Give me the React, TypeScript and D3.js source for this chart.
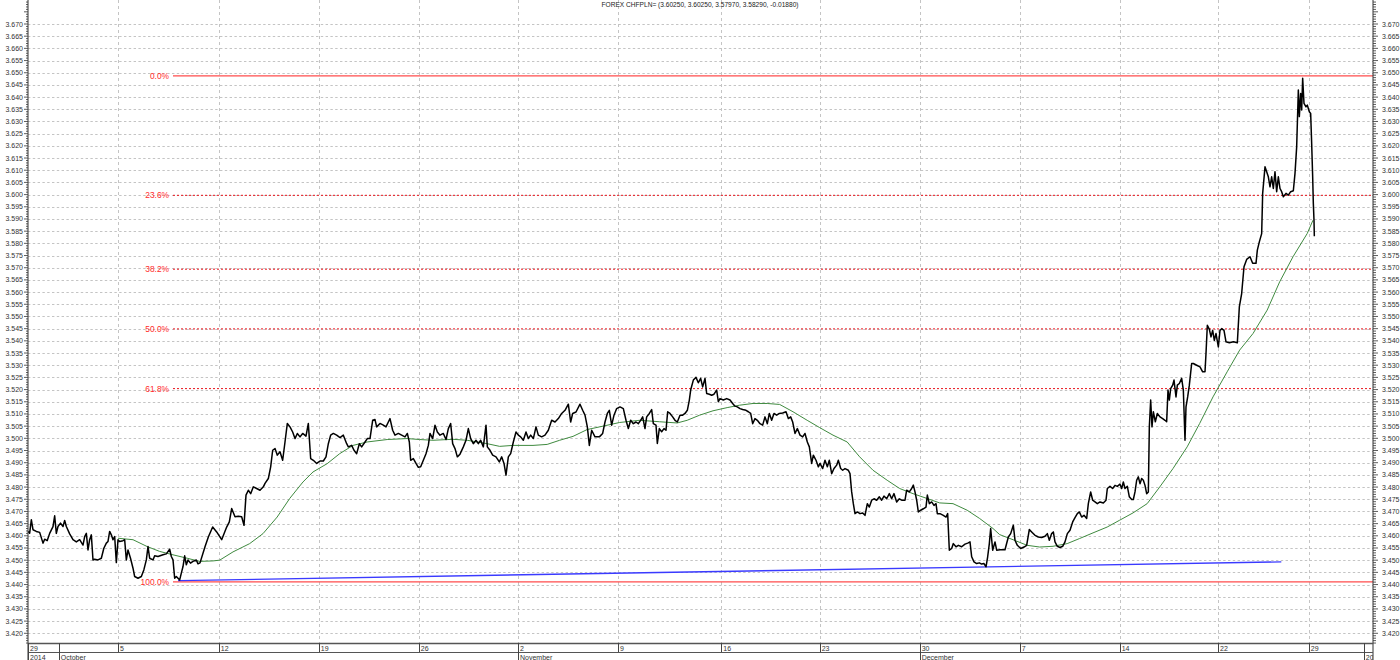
import React from 'react';
import * as d3 from 'd3';

// ---------- data ----------
const TITLE = 'FOREX CHFPLN= (3.60250, 3.60250, 3.57970, 3.58290, -0.01880)';

// time in trading hours since the first bar (Sep 29, 2014), value = CHF/PLN
const price: [number, number][] = [
  [0,3.4618],[2,3.4611],[4,3.4666],[6,3.4625],[10,3.4618],[14,3.4614],[18,3.457],[20,3.4586],[23,3.458],[26,3.461],
  [30,3.4638],[32,3.4682],[34,3.461],[36,3.4638],[39,3.4652],[42,3.4638],[44,3.4663],[46,3.4638],[50,3.4608],[54,3.4584],
  [58,3.4575],[62,3.4584],[66,3.4562],[68,3.4597],[70,3.461],[72,3.4542],[74,3.4584],[76,3.4604],[78,3.4501],[80,3.4504],
  [84,3.4501],[88,3.4508],[91,3.4549],[94,3.457],[96,3.4577],[98,3.4618],[100,3.4604],[102,3.4584],[104,3.4597],[106,3.449],
  [108,3.4584],[110,3.4577],[114,3.458],[116,3.4584],[118,3.4501],[120,3.4542],[123,3.4508],[126,3.4467],[128,3.4433],[132,3.4426],
  [136,3.4433],[139,3.446],[142,3.4501],[144,3.4556],[146,3.4508],[150,3.4501],[152,3.4518],[156,3.4515],[162,3.4522],[166,3.4526],
  [170,3.4545],[172,3.4515],[174,3.4501],[176,3.4426],[178,3.4433],[182,3.4419],[184,3.4447],[186,3.4474],[188,3.4518],[190,3.4481],
  [192,3.4501],[195,3.4488],[198,3.4495],[202,3.4501],[204,3.4485],
  [206.4,3.4489],[212.4,3.4555],[216.4,3.4595],[221.6,3.4636],[226.4,3.4616],[232.4,3.4584],[238.4,3.4636],[241.6,3.4657],[244.4,3.4712],[248.4,3.4678],
  [252.4,3.468],[256.4,3.4678],[259.2,3.4643],[261.6,3.4767],[264.4,3.4787],[267.2,3.4773],[270.4,3.4801],[274.4,3.4794],[278.4,3.4787],[282.4,3.4801],
  [284.4,3.4815],[288.4,3.4835],[291.2,3.4883],[293.6,3.4951],[296.4,3.4958],[299.2,3.4931],[302.4,3.4945],[305.6,3.491],[308.4,3.4985],[311.2,3.5061],
  [314.4,3.5047],[317.6,3.5026],[320.4,3.4999],[323.2,3.502],[326.4,3.5006],[329.6,3.502],[333.6,3.5009],[336.4,3.5061],[339.2,3.4917],[342.4,3.491],
  [346.4,3.4897],[350.4,3.4907],[354.4,3.4907],[357.6,3.4924],[360.4,3.4978],[363.2,3.5013],[366.4,3.502],[370.4,3.5013],[374.4,3.5003],[378.4,3.5013],
  [382.4,3.4978],[384.4,3.4965],[388.4,3.4971],[391.2,3.4951],[394.4,3.4937],[397.6,3.4978],[400.4,3.4965],[404.4,3.4985],[407.2,3.4999],[410.4,3.4999],
  [413.6,3.5074],[416.4,3.5077],[418.4,3.5047],[422.4,3.5061],[426.4,3.5054],[429.6,3.5047],[432.4,3.5067],[434.4,3.5081],[437.6,3.5033],[440.4,3.5013],
  [444.4,3.502],[448.4,3.5013],[452.4,3.5006],[455.2,3.502],[457.6,3.4985],[459.2,3.491],[462.4,3.4917],[465.6,3.4897],[468.4,3.4881],[471.2,3.4883],
  [474.4,3.491],[477.6,3.4937],[480.4,3.4971],[482.4,3.502],[485.6,3.4999],[488.4,3.5054],[491.2,3.5026],[494.4,3.5013],[498.4,3.502],[501.6,3.4995],
  [504.4,3.504],[507.2,3.5061],[509.6,3.4978],[512.4,3.4958],[515.2,3.4924],[518.4,3.4935],[522.4,3.4965],[525.6,3.4992],[528.4,3.504],[531.2,3.4999],
  [534.4,3.4978],[537.6,3.4992],[540.4,3.4978],[543.2,3.4992],[546.4,3.4965],[549.6,3.5054],[551.2,3.4965],[554.4,3.4951],[557.6,3.4931],[561.6,3.4924],
  [565.6,3.4903],[568.4,3.4924],[571.2,3.4897],[573.6,3.4849],[576.4,3.4924],[579.2,3.4937],[582.4,3.4985],[585.6,3.5026],[588.4,3.5013],[591.2,3.5006],
  [594.4,3.4992],[597.6,3.5026],[600.4,3.4999],[603.2,3.5013],[606.4,3.4999],[609.6,3.5047],[612.4,3.5013],[616.4,3.5006],[620.4,3.5013],[624.4,3.5033],
  [628.4,3.5074],[632.4,3.5067],[636.4,3.5081],[640.4,3.5102],[644.4,3.5115],[648.4,3.514],[651.2,3.5067],[653.6,3.5102],[657.6,3.5108],[662.4,3.514],
  [665.6,3.5115],[668.4,3.5095],[671.2,3.5047],[673.6,3.4971],[676.4,3.5033],[680.4,3.5006],[685.6,3.5006],[689.6,3.502],[692.4,3.5067],[695.2,3.5102],
  [697.6,3.5115],[700.4,3.5054],[703.2,3.5095],[706.4,3.5122],
  [710.4,3.5129],[714.4,3.5122],[717.6,3.5074],[720.4,3.504],[723.2,3.5074],[726.4,3.506],[729.6,3.5067],[732.4,3.506],[735.2,3.5074],[737.6,3.5088],
  [740.4,3.504],[742.4,3.5088],[745.6,3.5102],[748.4,3.5118],[750.4,3.506],[753.6,3.5054],[755.2,3.4979],[757.6,3.504],[760.4,3.5027],[763.2,3.504],
  [765.6,3.5033],[767.6,3.5109],[770.4,3.5102],[773.6,3.5088],[776.4,3.5074],[779.2,3.5067],[782.4,3.5095],[785.6,3.5095],[788.4,3.5102],[791.2,3.5115],
  [793.6,3.5157],[795.2,3.5198],[798.4,3.5239],[801.6,3.525],[804.4,3.5228],[807.2,3.5246],[809.6,3.5211],[812.4,3.5246],[814.4,3.5184],[817.6,3.5181],
  [820.4,3.5177],[823.2,3.5181],[826.4,3.5198],[828.4,3.515],[830.4,3.5163],[834.4,3.5157],[838.4,3.5163],[842.4,3.5157],[845.6,3.5143],[848.4,3.5132],
  [851.2,3.5129],[854.4,3.5122],[857.6,3.5118],[861.6,3.5115],[864.4,3.5109],[867.2,3.5102],[869.6,3.506],[872.4,3.5081],[875.2,3.5074],[878.4,3.506],
  [881.6,3.5054],[884.4,3.5088],[887.2,3.506],[889.6,3.5102],[892.4,3.5074],[895.2,3.5102],[898.4,3.5095],[901.6,3.5102],[905.6,3.5104],[909.6,3.5109],
  [912.4,3.5081],[915.2,3.5088],[917.6,3.5067],[920.4,3.502],[923.2,3.504],[926.4,3.5013],[929.6,3.5006],[932.4,3.502],[935.2,3.4985],[937.6,3.4965],
  [940.4,3.4897],[942.4,3.4931],[945.6,3.491],[948.4,3.4883],[950.4,3.4897],[953.6,3.4876],[956.4,3.491],[959.2,3.4883],[961.6,3.491],[964.4,3.4855],
  [967.2,3.4876],[970.4,3.489],[972.4,3.491],[975.2,3.4876],[977.6,3.4869],[980.4,3.4876],[984.4,3.4869],[986.4,3.4855],[988.4,3.478],[990.4,3.4732],
  [992.4,3.4691],[995.2,3.4698],[998.4,3.4691],[1001.6,3.4694],[1004.4,3.4684],[1007.2,3.4732],[1009.6,3.4718],[1012.4,3.4746],[1015.2,3.4752],[1018.4,3.4746],
  [1021.6,3.476],[1024.4,3.4746],[1027.2,3.4763],[1030.4,3.4752],[1033.6,3.4773],[1036.4,3.4752],[1039.2,3.4773],[1042.4,3.4739],[1045.6,3.4752],[1048.4,3.4746],
  [1052.4,3.4746],[1054.4,3.4787],[1057.6,3.478],[1060.4,3.4794],[1062.4,3.4808],[1064.4,3.478],[1066.4,3.4746],[1068.4,3.4698],[1071.2,3.4705],[1074.4,3.4711],
  [1077.6,3.4718],[1079.2,3.4767],[1081.6,3.4732],[1084.4,3.4739],[1087.2,3.4725],[1089.6,3.4732],[1091.2,3.4691],[1094.4,3.4691],[1098.4,3.4684],[1101.6,3.4677],
  [1103.6,3.4691],[1105.6,3.4541],[1108.4,3.4548],[1110.4,3.4568],[1113.6,3.4555],[1116.4,3.4561],[1120.4,3.4555],[1124.4,3.4566],[1128.4,3.4571],[1130.4,3.4575],
  [1132.4,3.4514],[1135.2,3.4493],[1138.4,3.4486],[1141.6,3.4489],[1144.4,3.4484],[1147.2,3.4486],[1149.6,3.4473],[1151.6,3.4514],[1153.6,3.4568],[1155.2,3.463],
  [1157.6,3.4541],[1160.4,3.4575],[1162.4,3.4541],
  [1166.4,3.4543],[1172.4,3.4543],[1176.4,3.4595],[1179.2,3.4609],[1182.4,3.4643],[1184.4,3.4582],[1187.2,3.4561],[1191.2,3.4548],[1195.2,3.4554],[1198.4,3.4561],
  [1201.6,3.4626],[1204.4,3.4616],[1208.4,3.4602],[1212.4,3.4595],[1216.4,3.4593],[1220.4,3.4598],[1223.2,3.4609],[1225.6,3.4582],[1228.4,3.4609],[1230.4,3.4616],
  [1232.4,3.4575],[1235.2,3.4557],[1238.4,3.4552],[1241.6,3.4557],[1244.4,3.4575],[1247.2,3.4609],[1250.4,3.4623],[1253.6,3.4657],[1256.4,3.4675],[1259.2,3.4691],
  [1261.6,3.4698],[1264.4,3.4677],[1267.2,3.4684],[1270.4,3.4671],[1272.4,3.4732],[1275.2,3.478],[1277.6,3.4746],[1280.4,3.4739],[1283.2,3.4732],[1286.4,3.4739],
  [1290.4,3.4735],[1293.6,3.4746],[1295.2,3.4794],[1298.4,3.4803],[1301.6,3.4794],[1304.4,3.4807],[1307.2,3.4803],[1310.4,3.4812],[1312.4,3.4794],[1314.4,3.4821],
  [1316.4,3.4794],[1319.2,3.4803],[1321.6,3.476],[1324.4,3.4749],[1326.4,3.4749],[1328.4,3.478],[1330.4,3.4828],[1332.4,3.4842],[1334.4,3.4814],[1336.4,3.4835],
  [1338.4,3.4828],[1340.4,3.4807],[1342.4,3.4773],[1344.4,3.478],[1345.6,3.5047],[1347.2,3.5157],[1348.8,3.5047],[1350.4,3.5109],[1352.8,3.5068],[1355.2,3.5102],
  [1358.4,3.5088],[1361.6,3.5081],[1364.4,3.5074],[1366.4,3.5068],[1368,3.5198],[1369.6,3.5157],[1371.2,3.5204],[1373.6,3.5218],[1375.2,3.5239],[1377.6,3.517],
  [1379.2,3.5218],[1381.6,3.5225],[1384.4,3.5246],[1386.4,3.5198],[1388.4,3.4992],[1389.6,3.5129],[1391.6,3.517],[1393.6,3.5218],[1396.4,3.5307],[1398.4,3.5307],
  [1402.4,3.53],[1406.4,3.5293],[1409.6,3.5273],[1412.4,3.5273],[1413.6,3.5348],[1415.2,3.5464],[1417.6,3.5447],[1419.6,3.5416],[1421.6,3.5443],[1423.6,3.5402],
  [1425.6,3.543],[1428.4,3.5375],[1430.4,3.5443],[1432.4,3.545],[1435.2,3.5443],[1437.6,3.5396],[1441.6,3.5392],[1446.4,3.5396],[1451.2,3.5392],[1453.6,3.5539],
  [1456.4,3.5594],[1459.2,3.5704],[1462.4,3.5734],[1466.4,3.5745],[1469.6,3.5718],[1473.6,3.5718],[1475.2,3.5772],[1477.6,3.5806],[1480.4,3.584],[1481.6,3.6005],
  [1484.4,3.6114],[1486.4,3.6094],[1488.4,3.6073],[1490.4,3.6032],[1492.4,3.6073],[1494.4,3.6025],[1496.4,3.6094],[1498.4,3.6012],[1500.4,3.6073],[1502.4,3.6025],
  [1504.4,3.6012],[1506.4,3.5991],[1509.6,3.6005],[1512.4,3.5998],[1515.2,3.6012],[1518.4,3.6016],[1520.4,3.6087],[1522.4,3.6196],[1524.4,3.6429],[1525.6,3.632],
  [1527.2,3.6415],[1528.4,3.6347],[1529.6,3.6477],[1531.2,3.6374],[1533.6,3.636],[1535.2,3.6367],[1537.6,3.634],[1539.2,3.6333],[1540.4,3.621],[1541.6,3.6073],
  [1542.4,3.5964],[1543.2,3.5895],[1543.6,3.5829],
];

// moving average (green)
const movingAvg: [number, number][] = [
  [108,3.459],[126,3.4584],[143,3.4556],[158,3.4536],[174,3.4522],[191,3.4508],[206,3.4495],[222,3.4497],[230,3.45],[246,3.4534],
  [266,3.4568],[282,3.4609],[299,3.4677],[314,3.4753],[330,3.4821],[342,3.4862],[359,3.4896],[374,3.4937],[390,3.4971],[407,3.4985],
  [431,3.4995],[455,3.4999],[470,3.4995],[486,3.4992],[510,3.4996],[527,3.4992],[551,3.4978],[566,3.4967],[582,3.4971],[606,3.4971],
  [623,3.4975],[638,3.4992],[654,3.5008],[671,3.5036],[686,3.5047],[710,3.5065],[734,3.5074],[758,3.5068],[779,3.5063],[791,3.5074],
  [806,3.5095],[822,3.5113],[839,3.5126],[854,3.5136],[870,3.5143],[887,3.5143],[902,3.5139],[918,3.5109],[935,3.5074],[950,3.5044],
  [966,3.5013],[983,3.4985],[998,3.4924],[1014,3.4869],[1031,3.4828],[1046,3.4794],[1062,3.4773],[1079,3.4753],[1094,3.4735],[1110,3.4732],
  [1127,3.4705],[1142,3.4671],[1158,3.463],[1166,3.4605],[1182,3.4584],[1199,3.4561],[1214,3.4554],[1230,3.4557],[1247,3.4568],[1262,3.4589],
  [1278,3.4612],[1295,3.4636],[1310,3.4664],[1326,3.4694],[1343,3.4732],[1358,3.48],[1374,3.4876],[1391,3.4965],[1406,3.5061],[1422,3.517],
  [1439,3.5273],[1454,3.5362],[1470,3.543],[1487,3.5526],[1502,3.5642],[1518,3.5745],[1535,3.584],[1542,3.5895],
];

// blue trend line
const trendLine: [number, number][] = [[180, 3.4416], [1504, 3.4493]];

// Fibonacci retracement
const fibHigh = 3.6487;
const fibLow = 3.4411;
const fibStartT = 174;
const fibLevels = [0, 23.6, 38.2, 50, 61.8, 100];

// axis labels
const dayTicks = [
  { t: 0, label: '29' }, { t: 108, label: '5' }, { t: 229, label: '12' }, { t: 349, label: '19' },
  { t: 469, label: '26' }, { t: 588, label: '2' }, { t: 708, label: '9' }, { t: 832, label: '16' },
  { t: 950, label: '23' }, { t: 1070, label: '30' }, { t: 1190, label: '7' }, { t: 1310, label: '14' },
  { t: 1428, label: '22' }, { t: 1537, label: '29' },
];
const monthMarks = [
  { t: 0, label: '2014' }, { t: 37, label: 'October' }, { t: 588, label: 'November' },
  { t: 1070, label: 'December' }, { t: 1603, label: '2015' },
];
const yMin = 3.42;
const yMax = 3.67;

// ---------- layout ----------
const W = 1400;
const H = 660;
const L = 28;
const R = 1373;
const B = 643;
const FONT = '"Liberation Sans", Arial, sans-serif';

const x = d3.scaleLinear().domain([0, 1614]).range([L, R]);
const y = d3.scaleLinear().domain([yMin, yMax]).range([633.3, 24]);

const line = d3.line<[number, number]>().x(d => x(d[0])).y(d => y(d[1]));

export default function App() {
  const majors = d3.range(0, 51).map(i => +(yMin + i * 0.005).toFixed(3));
  const minors = d3.range(3416, 3680).map(v => v / 1000);
  const fibY = (p: number) => fibHigh - (fibHigh - fibLow) * p / 100;

  return (
    <svg width={W} height={H} style={{ position: 'fixed', left: 0, top: 0, background: '#fff' }}
      fontFamily={FONT}>
      <defs>
        <clipPath id="plot"><rect x={L} y={0} width={R - L} height={B} /></clipPath>
        <clipPath id="axisclip"><rect x={L} y={B} width={R - L} height={H - B} /></clipPath>
      </defs>
      <rect x={0} y={0} width={W} height={H} fill="#fff" />

      {/* horizontal grid */}
      {majors.map(v => (
        <line key={'hg' + v} x1={L} x2={R} y1={Math.round(y(v)) + 0.5} y2={Math.round(y(v)) + 0.5}
          stroke="#c4c4c4" strokeWidth={1} strokeDasharray="2.4,2.4" />
      ))}
      {/* vertical grid */}
      {dayTicks.filter(d => d.t > 0).map(d => (
        <line key={'vg' + d.t} x1={Math.round(x(d.t)) + 0.5} x2={Math.round(x(d.t)) + 0.5} y1={0} y2={B}
          stroke="#c4c4c4" strokeWidth={1} strokeDasharray="3,3" />
      ))}

      <text x={700} y={7} fontSize={6.6} textAnchor="middle" fill="#222">{TITLE}</text>

      <g clipPath="url(#plot)">
        {/* fibonacci levels */}
        {fibLevels.map(p => {
          const yy = y(fibY(p));
          const solid = p === 0 || p === 100;
          return (
            <g key={'fib' + p}>
              <line x1={x(fibStartT)} x2={R} y1={yy} y2={yy}
                stroke={solid ? '#ff4d4d' : '#e8141c'} strokeWidth={solid ? 1.4 : 1}
                strokeDasharray={solid ? undefined : '2,2'} />
              <text x={x(fibStartT) - 4} y={yy + 3} fontSize={8.4} textAnchor="end" fill="#ff2a2a">
                {p.toFixed(1) + '%'}
              </text>
            </g>
          );
        })}
        <path d={line(trendLine) || ''} fill="none" stroke="#3a3aff" strokeWidth={1.4} />
        <path d={line(movingAvg) || ''} fill="none" stroke="#3f8a3f" strokeWidth={1} />
        <path d={line(price) || ''} fill="none" stroke="#000" strokeWidth={1.5} strokeLinejoin="round" />
      </g>

      {/* left axis */}
      <line x1={L} x2={L} y1={0} y2={H} stroke="#333" strokeWidth={1} />
      {minors.map(v => {
        const isMajor = Math.round(v * 1000) % 5 === 0;
        return <line key={'lm' + v} x1={isMajor ? L - 4 : L - 2} x2={L} y1={y(v)} y2={y(v)} stroke="#333" strokeWidth={0.8} />;
      })}
      {majors.map(v => (
        <text key={'ll' + v} x={L - 5} y={y(v) + 2.5} fontSize={7} textAnchor="end" fill="#333">{v.toFixed(3)}</text>
      ))}

      {/* right axis */}
      <line x1={R} x2={R} y1={0} y2={B + 17} stroke="#333" strokeWidth={1} />
      {minors.map(v => {
        const isMajor = Math.round(v * 1000) % 5 === 0;
        return <line key={'rm' + v} x1={R} x2={isMajor ? R + 5 : R + 3} y1={y(v)} y2={y(v)} stroke="#333" strokeWidth={0.8} />;
      })}
      {majors.map(v => (
        <text key={'rl' + v} x={R + 9} y={y(v) + 2.5} fontSize={7} textAnchor="start" fill="#333">{v.toFixed(3)}</text>
      ))}

      {/* bottom date axis */}
      <line x1={L} x2={R} y1={B + 0.5} y2={B + 0.5} stroke="#555" strokeWidth={1.5} />
      <line x1={L} x2={R} y1={652.5} y2={652.5} stroke="#555" strokeWidth={1} />
      <g clipPath="url(#axisclip)">
        {dayTicks.map(d => (
          <g key={'dt' + d.t}>
            <line x1={Math.round(x(d.t)) + 0.5} x2={Math.round(x(d.t)) + 0.5} y1={B} y2={652} stroke="#444" strokeWidth={1} />
            <text x={x(d.t) + 2} y={650.5} fontSize={7} fill="#333">{d.label}</text>
          </g>
        ))}
        {monthMarks.map(m => (
          <g key={'mm' + m.t}>
            <line x1={Math.round(x(m.t)) + 0.5} x2={Math.round(x(m.t)) + 0.5} y1={B} y2={H} stroke="#444" strokeWidth={1} />
            <text x={x(m.t) + 2} y={659.5} fontSize={7} fill="#333">{m.label}</text>
          </g>
        ))}
      </g>
    </svg>
  );
}
